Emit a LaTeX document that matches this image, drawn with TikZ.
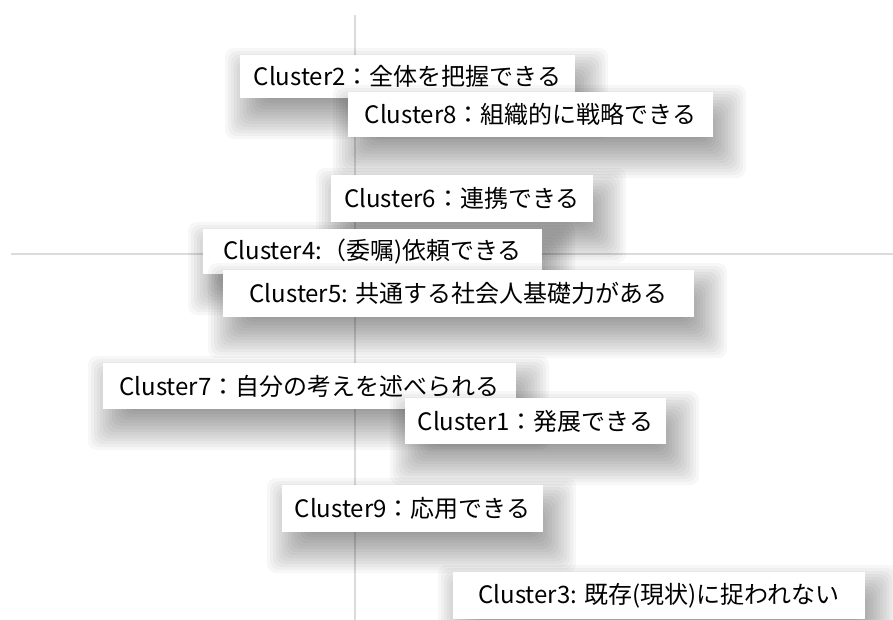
\documentclass[tikz,border=0pt]{standalone}
\usepackage{fontspec}
\setmainfont{Noto Sans CJK JP}
\begin{document}
\begin{tikzpicture}[x=1pt,y=1pt,
  lbl/.style={fill=white, inner sep=0pt, font=\fontsize{24}{28}\selectfont},
  shadowlayer/.style={fill=black, fill opacity=0.03, rounded corners=9pt},
  axisline/.style={draw=gray!28, line width=2pt}]
\newcommand\clbox[6]{%
  \foreach \e in {-18,-15,...,24}{%
    \fill[shadowlayer]
      ({#2-#4/2+9-\e},{#3-#5/2-17-\e}) rectangle ({#2+#4/2+9+\e},{#3+#5/2-17+\e});}
  \node[lbl, minimum width=#4pt, minimum height=#5pt] (#1) at (#2,#3) {#6};}
\path[use as bounding box, clip] (0,0) rectangle (893,-619);
\fill[white] (0,0) rectangle (893,-619);
\coordinate (vtop) at (355,-15);
\coordinate (vbot) at (355,-625);
\coordinate (hleft) at (11,-254);
\coordinate (hright) at (900,-254);
\draw[axisline] (vtop) -- (vbot);
\draw[axisline] (hleft) -- (hright);
\clbox{c2}{407.5}{-76.5}{335}{43}{Cluster2：全体を把握できる}
\clbox{c8}{530.5}{-114.5}{365}{45}{Cluster8：組織的に戦略できる}
\clbox{c6}{462}{-198.5}{262}{47}{Cluster6：連携できる}
\clbox{c4}{372.5}{-251.5}{339}{45}{Cluster4:（委嘱)依頼できる}
\clbox{c5}{458.5}{-293.5}{471}{47}{Cluster5: 共通する社会人基礎力がある}
\clbox{c7}{309.5}{-386}{413}{46}{Cluster7：自分の考えを述べられる}
\clbox{c1}{535.5}{-421}{261}{46}{Cluster1：発展できる}
\clbox{c9}{412.5}{-508.5}{261}{47}{Cluster9：応用できる}
\clbox{c3}{659}{-595.5}{412}{47}{Cluster3: 既存(現状)に捉われない}
\end{tikzpicture}
\end{document}
